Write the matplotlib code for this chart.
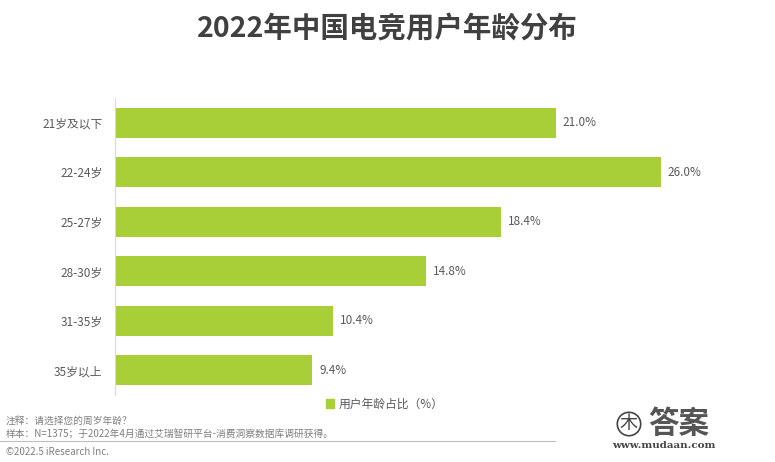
import matplotlib
matplotlib.use('Agg')
import matplotlib.pyplot as plt
from matplotlib.lines import Line2D
from matplotlib.patches import Patch

plt.rcParams['font.family'] = ['Noto Sans CJK SC', 'DejaVu Sans']

categories = ['21岁及以下', '22-24岁', '25-27岁', '28-30岁', '31-35岁', '35岁以上']
shares = [21.0, 26.0, 18.4, 14.8, 10.4, 9.4]
series_name = '用户年龄占比（%）'

GREEN = '#a9cf38'
TEXT = '#595959'

fig = plt.figure(figsize=(7.75, 4.62), dpi=100)
fig.patch.set_facecolor('white')
ax = fig.add_axes([115 / 775, 1 - 395 / 462, 630 / 775, 297 / 462])

ypos = list(range(len(categories)))
bars = ax.barh(ypos, shares, height=0.6, color=GREEN)
ax.set_ylim(len(categories) - 0.5, -0.5)
ax.set_xlim(0, 30)
ax.set_yticks(ypos)
ax.set_yticklabels(categories, fontsize=8.5, color=TEXT)
ax.tick_params(axis='y', length=0, pad=9)
ax.set_xticks([])
for s in ['top', 'right', 'bottom']:
    ax.spines[s].set_visible(False)
ax.spines['left'].set_color('#d9d9d9')
ax.spines['left'].set_linewidth(0.8)

for b, v in zip(bars, shares):
    ax.annotate(f'{v:.1f}%', (b.get_width(), b.get_y() + b.get_height() / 2),
                xytext=(5, 0), textcoords='offset points', va='center', ha='left',
                fontsize=8.5, color=TEXT)

fig.text(0.5, 1 - 28 / 462, '2022年中国电竞用户年龄分布', ha='center', va='center',
         fontsize=20.5, fontweight='bold', color='#404040')

fig.legend(handles=[Patch(color=GREEN, label=series_name)], loc='center',
           bbox_to_anchor=(385 / 775, 1 - 404 / 462), frameon=False, fontsize=8.5,
           labelcolor=TEXT, handlelength=0.7, handleheight=0.7, handletextpad=0.4)

fig.text(6 / 775, 1 - 421 / 462, '注释：请选择您的周岁年龄？', fontsize=7, color='#7f7f7f', va='center')
fig.text(6 / 775, 1 - 434 / 462, '样本：N=1375；于2022年4月通过艾瑞智研平台-消费洞察数据库调研获得。',
         fontsize=7, color='#7f7f7f', va='center')
fig.add_artist(Line2D([0, 555 / 775], [1 - 441 / 462] * 2, color='#bfbfbf', lw=0.8))
fig.text(6 / 775, 1 - 452 / 462, '©2022.5 iResearch Inc.', fontsize=7, color='#7f7f7f', va='center')

# watermark
fig.text(648 / 775, 1 - 424 / 462, '答案', fontsize=22, fontweight='bold', color='#555555', va='center')
fig.text(612 / 775, 1 - 446 / 462, 'www.mudaan.com', fontsize=7.5, family='DejaVu Serif',
         fontweight='bold', color='#444444', va='center')
fig.text(629 / 775, 1 - 424 / 462, '木', fontsize=13, color='#444444', va='center', ha='center',
         bbox=dict(boxstyle='circle,pad=0.15', fc='white', ec='#444444', lw=1.2))

fig.savefig('out.png', dpi=100)
